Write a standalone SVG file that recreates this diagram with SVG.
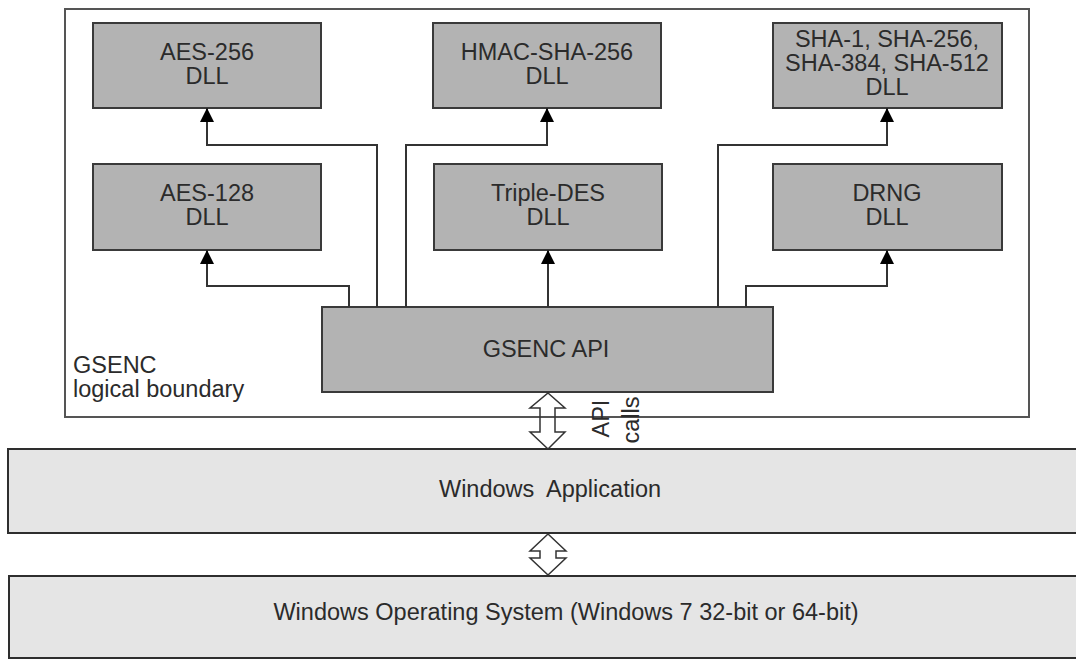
<svg xmlns="http://www.w3.org/2000/svg" width="1076" height="660" viewBox="0 0 1076 660">
  <style>
    .dll { fill: #b3b3b3; stroke: #3a3a3a; stroke-width: 2; }
    .layer { fill: #e5e5e5; stroke: #2e2e2e; stroke-width: 2; }
    .bound { fill: none; stroke: #555; stroke-width: 2; }
    .lbl { font-family: "Liberation Sans", Arial, sans-serif; font-size: 23.5px; fill: #2b2b2b; }
    .mid { text-anchor: middle; }
    .wire { fill: none; stroke: #333; stroke-width: 2; }
    .dbl { fill: none; stroke: #333; stroke-width: 1.5; stroke-linejoin: miter; }
  </style>
  <defs>
    <marker id="tip" viewBox="0 0 14 14" refX="14" refY="7" markerWidth="14" markerHeight="14" markerUnits="userSpaceOnUse" orient="auto">
      <path d="M0,0 L14,7 L0,14 Z" fill="#000"/>
    </marker>
  </defs>

  <rect width="1076" height="660" fill="#fff"/>

  <!-- GSENC logical boundary -->
  <g id="boundary">
    <rect class="bound" x="65" y="9" width="964" height="408"/>
    <text class="lbl" x="73" y="373">GSENC</text>
    <text class="lbl" x="73" y="397">logical boundary</text>
  </g>

  <g id="aes256">
    <rect class="dll" x="93" y="23" width="228" height="85"/>
    <text class="lbl mid" x="207" y="60">AES-256</text>
    <text class="lbl mid" x="207" y="84">DLL</text>
  </g>
  <g id="hmac">
    <rect class="dll" x="433" y="23" width="228" height="85"/>
    <text class="lbl mid" x="547" y="60">HMAC-SHA-256</text>
    <text class="lbl mid" x="547" y="84">DLL</text>
  </g>
  <g id="sha">
    <rect class="dll" x="773" y="23" width="229" height="85"/>
    <text class="lbl mid" x="887" y="47">SHA-1, SHA-256,</text>
    <text class="lbl mid" x="887" y="71">SHA-384, SHA-512</text>
    <text class="lbl mid" x="887" y="95">DLL</text>
  </g>
  <g id="aes128">
    <rect class="dll" x="93" y="164" width="228" height="86"/>
    <text class="lbl mid" x="207" y="201">AES-128</text>
    <text class="lbl mid" x="207" y="225">DLL</text>
  </g>
  <g id="tdes">
    <rect class="dll" x="434" y="164" width="228" height="86"/>
    <text class="lbl mid" x="548" y="201">Triple-DES</text>
    <text class="lbl mid" x="548" y="225">DLL</text>
  </g>
  <g id="drng">
    <rect class="dll" x="773" y="164" width="229" height="86"/>
    <text class="lbl mid" x="887" y="201">DRNG</text>
    <text class="lbl mid" x="887" y="225">DLL</text>
  </g>
  <g id="api">
    <rect class="dll" x="322" y="307" width="451" height="85"/>
    <text class="lbl mid" x="546" y="357">GSENC API</text>
  </g>

  <g id="winapp">
    <rect class="layer" x="8" y="449" width="1080" height="84"/>
    <text class="lbl mid" x="550" y="497" xml:space="preserve">Windows  Application</text>
  </g>
  <g id="winos">
    <rect class="layer" x="9" y="576" width="1080" height="82"/>
    <text class="lbl mid" x="566" y="620">Windows Operating System (Windows 7 32-bit or 64-bit)</text>
  </g>

  <!-- connectors -->
  <g id="connectors">
    <path class="wire" d="M349,307 V286 H207 V250" marker-end="url(#tip)"/>
    <path class="wire" d="M377,307 V145 H207 V108" marker-end="url(#tip)"/>
    <path class="wire" d="M406,307 V145 H547 V108" marker-end="url(#tip)"/>
    <path class="wire" d="M548,307 V250" marker-end="url(#tip)"/>
    <path class="wire" d="M718,307 V145 H887 V108" marker-end="url(#tip)"/>
    <path class="wire" d="M746,307 V286 H887 V250" marker-end="url(#tip)"/>

    <polygon class="dbl" points="548,393 565,408 555,408 555,432 565,432 548,449 530,432 540,432 540,408 530,408"/>
    <text class="lbl" transform="translate(608.5,437.5) rotate(-90)">API</text>
    <text class="lbl" transform="translate(638.5,443.5) rotate(-90)">calls</text>

    <polygon class="dbl" points="548,534 566,551 556,551 556,558 566,558 548,575 530,558 540,558 540,551 530,551"/>
  </g>
</svg>
